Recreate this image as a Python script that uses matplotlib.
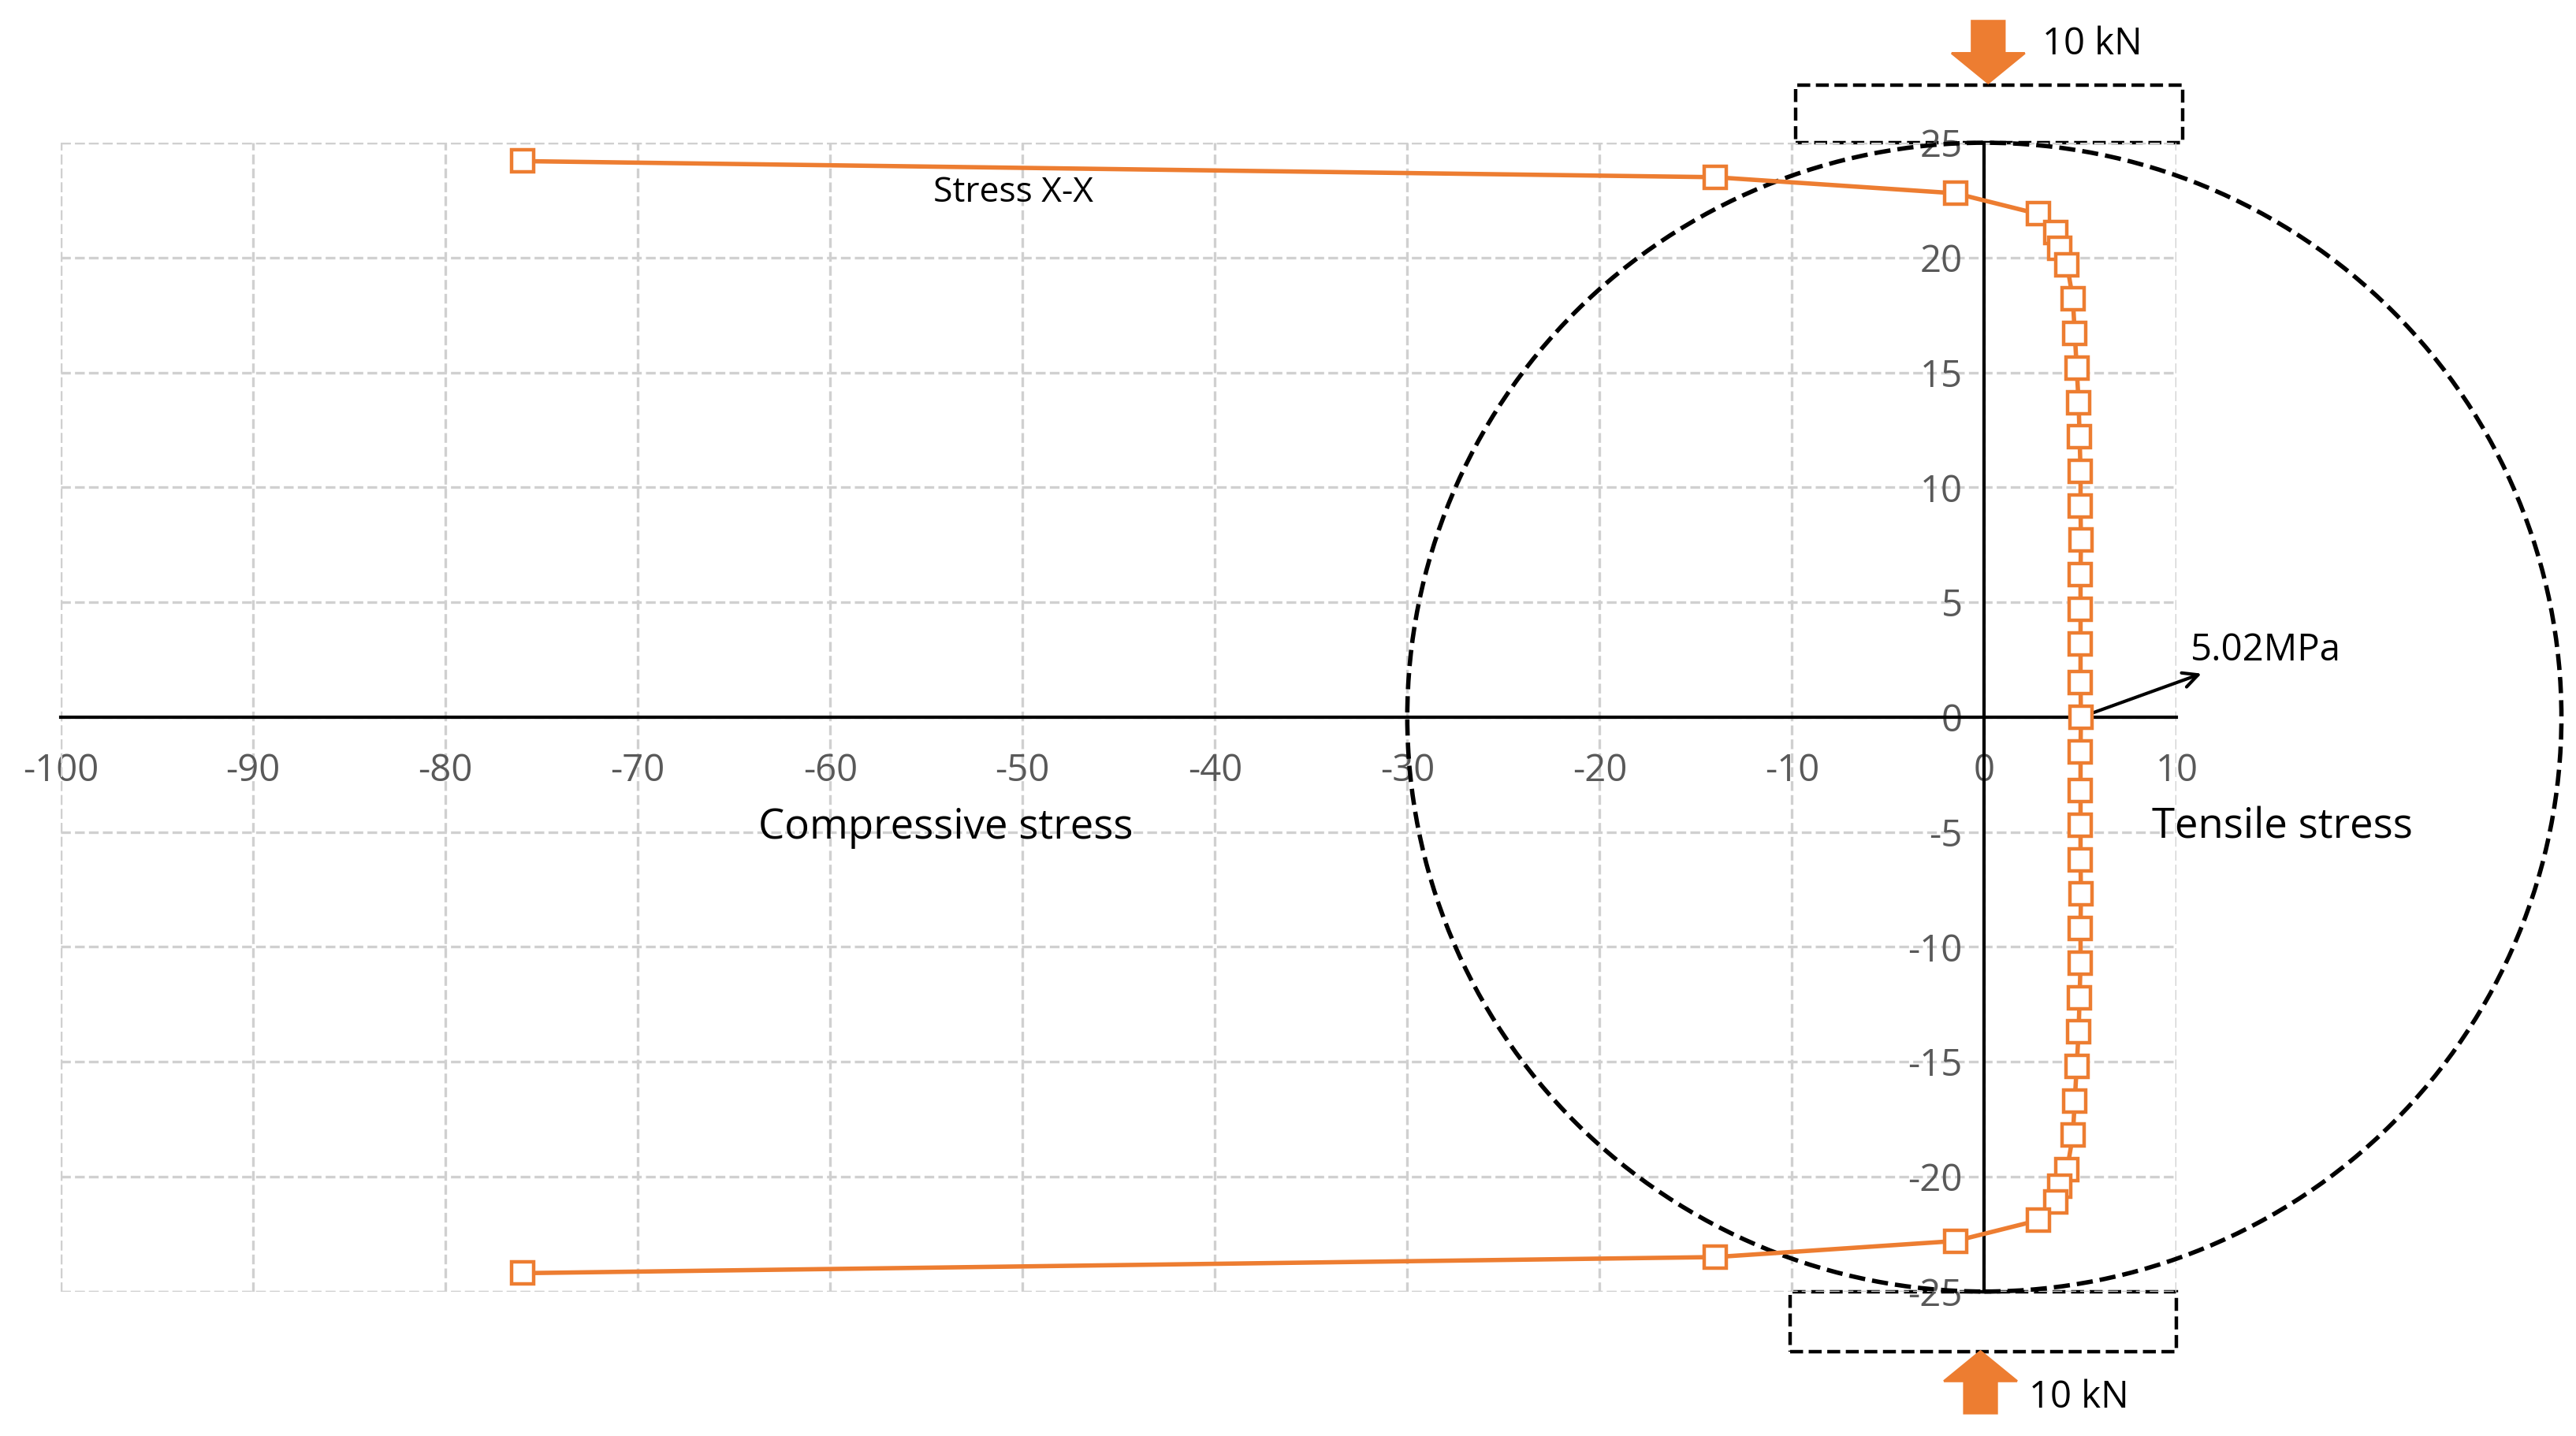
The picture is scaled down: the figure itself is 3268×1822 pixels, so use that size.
import matplotlib.pyplot as plt
from matplotlib.patches import Ellipse, Rectangle, FancyArrow
import numpy as np

plt.rcParams['font.family'] = ['Open Sans', 'DejaVu Sans']
plt.rcParams['axes.unicode_minus'] = False

# stress distribution (x = stress MPa, y = position mm)
y_top = [24.2, 23.5, 22.8, 21.9, 21.1, 20.4, 19.7, 18.2, 16.7, 15.2, 13.7, 12.2,
         10.7, 9.2, 7.7, 6.2, 4.7, 3.2, 1.5, 0.0]
x_top = [-76.0, -14.0, -1.5, 2.8, 3.7, 3.9, 4.3, 4.6, 4.7, 4.8, 4.9, 4.95,
         5.0, 5.0, 5.02, 5.0, 5.0, 5.0, 5.0, 5.02]
y_vals = y_top + [-v for v in y_top[-2::-1]]
x_vals = x_top + x_top[-2::-1]

x_ticks = list(range(-100, 11, 10))
y_ticks = list(range(-25, 26, 5))

fig = plt.figure(figsize=(16.34, 9.11), dpi=200)
ax = fig.add_axes([0.0236, 0.1006, 0.8214, 0.8])
ax.set_xlim(-100, 10)
ax.set_ylim(-25, 25)

ax.set_xticks(x_ticks)
ax.set_yticks(y_ticks)
ax.grid(True, color='#d0d0d0', linestyle='--', linewidth=1.2)
for s in ['top', 'right']:
    ax.spines[s].set_visible(False)
ax.spines['left'].set_position(('data', 0))
ax.spines['bottom'].set_position(('data', 0))
ax.spines['left'].set_linewidth(1.5)
ax.spines['bottom'].set_linewidth(1.5)
ax.tick_params(length=0, labelsize=17, labelcolor='#595959')
ax.tick_params(axis='x', pad=16)
ax.tick_params(axis='y', pad=10)
# outer border drawn as dashed grid lines
for xv in (-100, 10):
    ax.axvline(xv, color='#d0d0d0', linestyle='--', linewidth=1.2)
for yv in (-25, 25):
    ax.axhline(yv, color='#d0d0d0', linestyle='--', linewidth=1.2)

ax.plot(x_vals, y_vals, color='#ED7D31', linewidth=2, marker='s', markersize=10,
        markerfacecolor='white', markeredgecolor='#ED7D31', markeredgewidth=1.6,
        zorder=5, clip_on=False)

ax.add_patch(Ellipse((0, 0), 60, 50, fill=False, linestyle='--', linewidth=2,
                     edgecolor='black', clip_on=False, zorder=4))
ax.add_patch(Rectangle((-9.8, 25), 20.1, 2.5, fill=False, linestyle='--',
                       linewidth=1.6, edgecolor='black', clip_on=False))
ax.add_patch(Rectangle((-10.1, -27.6), 20.1, 2.6, fill=False, linestyle='--',
                       linewidth=1.6, edgecolor='black', clip_on=False))

ax.add_patch(FancyArrow(0.2, 30.3, 0, -2.7, width=1.7, head_width=3.8,
                        head_length=1.3, color='#ED7D31', clip_on=False,
                        length_includes_head=True))
ax.add_patch(FancyArrow(-0.2, -30.3, 0, 2.7, width=1.7, head_width=3.8,
                        head_length=1.3, color='#ED7D31', clip_on=False,
                        length_includes_head=True))
ax.text(3.0, 29.3, '10 kN', fontsize=17, va='center', ha='left')
ax.text(2.3, -29.6, '10 kN', fontsize=17, va='center', ha='left')

ax.text(-50.5, 22.8, 'Stress X-X', fontsize=16, ha='center', va='center')
ax.text(-54, -4.8, 'Compressive stress', fontsize=19, ha='center', va='center')
ax.text(15.5, -4.8, 'Tensile stress', fontsize=19, ha='center', va='center')
ax.annotate('5.02MPa', xy=(5.02, 0), xytext=(10.7, 2.9), fontsize=17,
            va='center', ha='left', annotation_clip=False,
            arrowprops=dict(arrowstyle='<-', color='black', lw=1.5,
                            shrinkA=0, shrinkB=0))

fig.savefig('out.png', dpi=200)
